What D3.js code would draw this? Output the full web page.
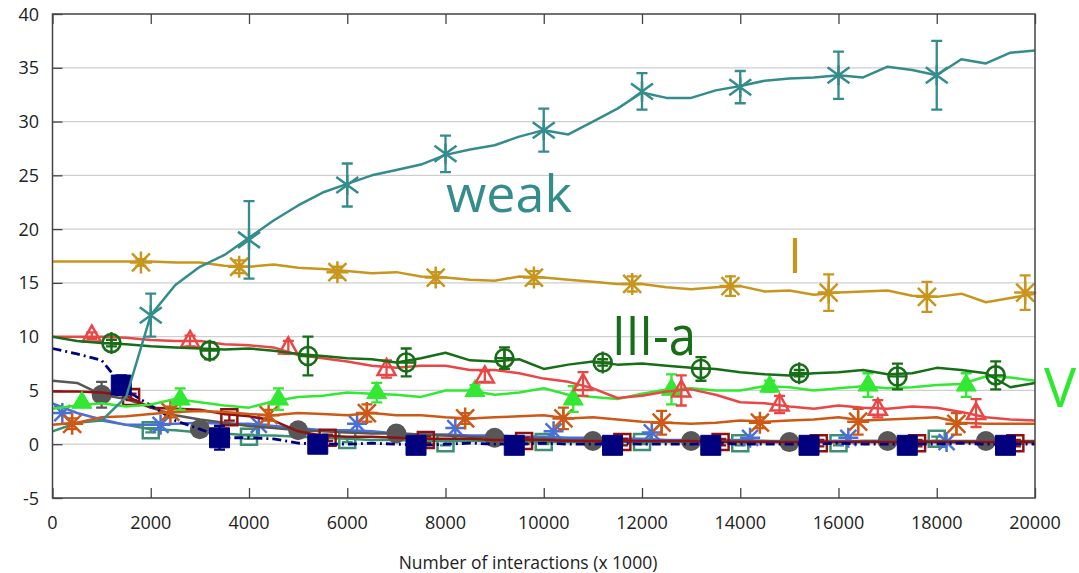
<!DOCTYPE html>
<html><head><meta charset="utf-8">
<script src="https://cdn.jsdelivr.net/npm/d3@7"></script>
<style>body{margin:0;background:#fff}svg{display:block}text{font-family:"Open Sans",sans-serif}</style>
</head><body><svg id="c" width="1079" height="573"></svg>
<script>
// ---------- data ----------
const xTicks=[0,2000,4000,6000,8000,10000,12000,14000,16000,18000,20000];
const yTicks=[-5,0,5,10,15,20,25,30,35,40];
const xTitle="Number of interactions (x 1000)";
const X=[0,500,1000,1500,2000,2500,3000,3500,4000,4500,5000,5500,6000,6500,7000,7500,8000,8500,9000,9500,10000,10500,11000,11500,12000,12500,13000,13500,14000,14500,15000,15500,16000,16500,17000,17500,18000,18500,19000,19500,20000];

const weakY=[null,null,2.2,4.4,12,14.8,16.5,17.6,19.2,20.8,22.2,23.4,24.2,25,25.5,26,26.9,27.4,27.8,28.6,29.2,28.8,30,31.2,32.7,32.2,32.2,32.9,33.3,33.8,34,34.1,34.3,34.1,35.1,34.8,34.3,35.8,35.4,36.4,36.6];
const weakMX=[2000,4000,6000,8000,10000,12000,14000,16000,18000];
const weakMY=[12,19,24.1,27,29.2,32.8,33.2,34.3,34.3];
const weakErr=[2,3.6,2,1.7,2,1.7,1.5,2.2,3.2];

const iY=[17,17,17,17,17,16.9,16.9,16.6,16.5,16.7,16.4,16.3,16.1,15.9,16,15.6,15.5,15.3,15.2,15.6,15.5,15.3,15.1,14.9,14.9,14.6,14.4,14.6,14.7,14.2,14.3,13.9,14.1,14.2,14.3,13.8,13.7,14.0,13.2,13.6,14.0];
const iMX=[1800,3800,5800,7800,9800,11800,13800,15800,17800,19800];
const iMY=[16.9,16.5,16,15.5,15.5,14.9,14.7,14.1,13.7,14.1];
const iErr=[0.3,0.6,0.5,0.5,0.6,0.7,0.9,1.7,1.4,1.6];

const iiiaY=[10,9.6,9.4,9.3,9.1,9.0,8.9,8.8,8.9,8.7,8.4,8.2,8.0,7.9,7.6,8.0,8.5,7.8,7.7,7.9,7.0,7.4,7.7,7.4,7.5,7.3,7.1,7.0,6.7,6.5,6.4,6.6,6.7,6.9,6.5,6.6,7.1,6.9,6.6,5.3,5.7];
const iiiaMX=[1200,3200,5200,7200,9200,11200,13200,15200,17200,19200];
const iiiaMY=[9.4,8.7,8.2,7.6,8.0,7.6,7.0,6.6,6.3,6.4];
const iiiaErr=[0.3,0.8,1.8,1.3,1.0,0.3,1.1,0.3,1.2,1.3];

const redY=[10,10,10,9.9,9.7,9.6,9.6,9.3,9.2,9.0,8.3,8.0,7.7,7.3,7.1,7.3,7.3,6.9,6.9,6.6,6.1,5.8,5.2,4.3,4.5,4.9,5.1,4.6,3.9,3.8,3.5,3.3,3.6,3.4,3.3,3.5,3.4,3.0,2.5,2.3,2.2];
const redMX=[800,2800,4800,6800,8800,10800,12800,14800,16800,18800];
const redMY=[10.1,9.6,9.0,7.0,6.3,5.6,5.0,3.7,3.3,2.9];
const redErr=[0.3,0.5,0.6,0.8,0.5,1.1,1.4,0.8,0.8,1.3];

const vY=[3.3,3.6,3.8,3.5,3.7,4.2,3.9,3.6,3.4,4.0,4.4,4.5,4.8,4.7,4.6,4.4,5.0,5.0,4.6,4.8,5.2,4.6,4.4,4.2,4.7,5.1,5.2,5.0,5.0,5.4,5.3,5.0,5.2,5.4,5.2,5.3,5.5,5.6,6.3,6.2,5.9];
const vMX=[600,2600,4600,6600,8600,10600,12600,14600,16600,18600];
const vMY=[3.9,4.2,4.2,4.8,5.0,4.2,5.1,5.4,5.5,5.5];
const vErr=[0,1.0,1.0,0.9,0.5,1.2,1.4,0.5,1.1,1.1];

const orangeY=[1.8,2.0,2.5,2.6,2.8,3.0,3.1,3.0,2.8,2.7,2.9,2.8,2.7,2.9,2.7,2.7,2.5,2.4,2.5,2.6,2.7,2.4,2.5,2.3,2.1,2.0,1.9,2.0,2.2,2.1,2.2,2.3,2.5,2.2,2.3,2.4,2.5,2.0,1.9,1.9,1.9];
const orangeMX=[400,2400,4400,6400,8400,10400,12400,14400,16400,18400];
const orangeMY=[1.9,3.0,2.7,2.9,2.4,2.4,2.0,2.0,2.1,1.9];
const orangeErr=[0.5,0.5,0.5,0.8,0.5,1.0,1.1,0.5,1.2,1.0];

const darkRedY=[4.9,4.9,4.8,4.5,3.4,3.3,3.2,2.8,2.6,2.2,1.2,0.8,0.7,0.7,0.6,0.5,0.5,0.5,0.4,0.4,0.4,0.3,0.3,0.3,0.3,0.3,0.3,0.2,0.2,0.2,0.2,0.2,0.2,0.2,0.2,0.2,0.2,0.2,0.2,0.2,0.2];
const darkRedMX=[1600,3600,5600,7600,9600,11600,13600,15600,17600,19600];
const darkRedMY=[4.4,2.5,0.6,0.4,0.3,0.2,0.2,0.1,0.1,0.1];
const darkRedErr=[0.3,0.3,0.3,0.3,0.3,0.3,0.3,0.3,0.3,0.3];

const navyY=[8.9,8.4,7.8,5.0,3.6,2.2,1.4,0.6,0.6,0.5,0.1,0.0,0.0,0.1,0.0,-0.1,0.0,0.1,0.0,0.0,0.1,0.0,0.0,0.1,0.0,0.0,0.0,0.1,0.0,0.0,0.0,0.0,0.1,0.0,0.0,0.0,0.0,0.1,0.0,0.0,0.0];
const navyMX=[1400,3400,5400,7400,9400,11400,13400,15400,17400,19400];
const navyMY=[5.5,0.6,0,-0.1,-0.1,-0.1,-0.1,-0.1,-0.1,-0.1];
const navyErr=[0.9,1.1,0.2,0.2,0.2,0.2,0.2,0.2,0.2,0.2];

const grayY=[5.9,5.7,4.6,4.2,3.4,2.7,2.3,2.0,1.7,1.5,1.3,1.2,1.1,1.0,1.0,0.9,0.8,0.7,0.6,0.5,0.5,0.4,0.4,0.4,0.3,0.3,0.3,0.3,0.3,0.3,0.2,0.2,0.2,0.3,0.3,0.3,0.3,0.3,0.3,0.3,0.3];
const grayMX=[1000,3000,5000,7000,9000,11000,13000,15000,17000,19000];
const grayMY=[4.6,1.4,1.3,1.0,0.6,0.3,0.3,0.2,0.3,0.3];
const grayErr=[1.2,0.3,0.3,0.3,0.3,0.3,0.3,0.3,0.3,0.3];

const blueY=[3.8,2.9,2.3,1.8,1.8,1.9,2.0,1.9,1.9,1.7,1.5,1.3,1.3,1.2,1.0,0.9,0.9,0.8,0.8,0.7,0.7,0.6,0.6,0.5,0.5,0.4,0.4,0.4,0.4,0.3,0.3,0.3,0.3,0.3,0.3,0.2,0.2,0.2,0.2,0.2,0.2];
const blueMX=[200,2200,4200,6200,8200,10200,12200,14200,16200,18200];
const blueMY=[2.9,1.8,1.8,1.9,1.5,1.2,1.1,0.6,0.6,0.2];
const blueErr=[0,0,0,0,0,0,0,0,0,0];

const seaY=[1.2,2.0,2.2,1.8,1.4,1.3,1.1,1.0,0.8,0.8,0.7,0.6,0.5,0.4,0.4,0.3,0.3,0.3,0.3,0.2,0.2,0.2,0.2,0.2,0.2,0.2,0.2,0.2,0.2,0.2,0.2,0.2,0.2,0.2,0.2,0.2,0.2,0.2,0.2,0.2,0.2];
const seaMX=[2000,4000,6000,8000,10000,12000,14000,16000,18000];
const seaMY=[1.3,0.7,0.4,0.1,0.2,0.2,0.1,0.1,0.5];
const seaErr=[0.2,0.2,0.2,0.2,0.2,0.2,0.2,0.2,0.2];

// ---------- chart ----------
const svg=d3.select("#c");
const L=52.5,R=1035,T=14,B=498;
const x=d3.scaleLinear().domain([0,20000]).range([L,R]);
const y=d3.scaleLinear().domain([-5,40]).range([B,T]);

svg.append("g").selectAll("line").data(yTicks.filter(v=>v>-5&&v<40)).join("line")
  .attr("x1",L).attr("x2",R).attr("y1",d=>y(d)).attr("y2",d=>y(d))
  .attr("stroke","#cfcfcf").attr("stroke-width",1.2);

const axB=svg.append("g").attr("transform",`translate(0,${B})`).call(d3.axisTop(x).tickValues(xTicks).tickSize(10).tickFormat(""));
const axT=svg.append("g").attr("transform",`translate(0,${T})`).call(d3.axisBottom(x).tickValues(xTicks).tickSize(10).tickFormat(""));
const axL=svg.append("g").attr("transform",`translate(${L},0)`).call(d3.axisRight(y).tickValues(yTicks).tickSize(10).tickFormat(""));
[axB,axT,axL].forEach(a=>{a.select(".domain").remove();a.selectAll("line").attr("stroke","#444").attr("stroke-width",1.3);});

svg.append("g").selectAll("text").data(xTicks).join("text")
  .attr("x",d=>x(d)).attr("y",529).attr("text-anchor","middle")
  .attr("font-size",18).attr("fill","#222").text(d=>d);
svg.append("g").selectAll("text").data(yTicks).join("text")
  .attr("x",39).attr("y",d=>y(d)+6.5).attr("text-anchor","end")
  .attr("font-size",18).attr("fill","#222").text(d=>d);
svg.append("text").attr("x",528).attr("y",569).attr("text-anchor","middle")
  .attr("font-size",17.5).attr("fill","#222").text(xTitle);

const shapes={
  xstar:"M-11,-8L11,8M-11,8L11,-8M0,-10V10",
  star8:"M-9,-9L9,9M-9,9L9,-9M0,-11V11M-11,0H11",
  star8s:"M-8,-8L8,8M-8,8L8,-8M0,-10V10M-10,0H10",
  cross:"M-9,0H9M0,-11V11",
  tri:"M0,-10L9,6L-9,6Z",
  triF:"M0,-11L10,6L-10,6Z",
  sq:"M-8,-8H8V8H-8Z",
  sqF:"M-10,-10H10V10H-10Z"
};

const series=[
  {v:seaY,mx:seaMX,my:seaMY,e:seaErr,c:"#3a9070",shape:"sq",fill:"none",w:2.5},
  {v:blueY,mx:blueMX,my:blueMY,e:blueErr,c:"#4a6fd8",shape:"star8s",fill:"none",w:2.5},
  {v:grayY,mx:grayMX,my:grayMY,e:grayErr,c:"#575757",shape:"dot",fill:"#575757",w:2.5},
  {v:darkRedY,mx:darkRedMX,my:darkRedMY,e:darkRedErr,c:"#8e1212",shape:"sq",fill:"none",w:2.5},
  {v:navyY,mx:navyMX,my:navyMY,e:navyErr,c:"#00007e",shape:"sqF",fill:"#00007e",w:2.8,dash:"9,4,2,4"},
  {v:orangeY,mx:orangeMX,my:orangeMY,e:orangeErr,c:"#cc5a16",shape:"star8",fill:"none",w:2.5},
  {v:vY,mx:vMX,my:vMY,e:vErr,c:"#33e833",shape:"triF",fill:"#33e833",w:2.5},
  {v:redY,mx:redMX,my:redMY,e:redErr,c:"#ea4646",shape:"tri",fill:"none",w:2.5},
  {v:iiiaY,mx:iiiaMX,my:iiiaMY,e:iiiaErr,c:"#176e17",shape:"ccross",fill:"none",w:2.5},
  {v:iY,mx:iMX,my:iMY,e:iErr,c:"#c8961e",shape:"star8",fill:"none",w:2.5},
  {v:weakY,mx:weakMX,my:weakMY,e:weakErr,c:"#358c8c",shape:"xstar",fill:"none",w:2.5}
];

const line=d3.line().defined(d=>d[1]!=null).x(d=>x(d[0])).y(d=>y(d[1]));
series.forEach(s=>{
  const g=svg.append("g");
  g.append("path").datum(X.map((xv,i)=>[xv,s.v[i]])).attr("d",line)
    .attr("fill","none").attr("stroke",s.c).attr("stroke-width",s.w)
    .attr("stroke-linejoin","round").attr("stroke-dasharray",s.dash||null);
  const pts=s.mx.map((xv,i)=>({x:xv,y:s.my[i],e:s.e[i]}));
  g.selectAll(".eb").data(pts.filter(p=>p.e>0)).join("path")
    .attr("d",p=>{const cx=x(p.x),y1=y(p.y+p.e),y2=y(p.y-p.e);
      return `M${cx},${y1}V${y2}M${cx-5.5},${y1}H${cx+5.5}M${cx-5.5},${y2}H${cx+5.5}`;})
    .attr("stroke",s.c).attr("stroke-width",2.3).attr("fill","none");
  const m=g.selectAll(".mk").data(pts).join("g").attr("transform",p=>`translate(${x(p.x)},${y(p.y)})`);
  if(s.shape==="dot"){
    m.append("circle").attr("r",10).attr("fill",s.fill);
  } else if(s.shape==="ccross"){
    m.append("circle").attr("r",9).attr("fill","none").attr("stroke",s.c).attr("stroke-width",2.6);
    m.append("path").attr("d",shapes.cross).attr("stroke",s.c).attr("stroke-width",2.3);
  } else {
    m.append("path").attr("d",shapes[s.shape]).attr("fill",s.fill)
      .attr("stroke",s.c).attr("stroke-width",s.shape==="sqF"||s.shape==="triF"?1:2.5)
      .attr("stroke-linejoin","miter");
  }
});

svg.append("rect").attr("x",L).attr("y",T).attr("width",R-L).attr("height",B-T)
  .attr("fill","none").attr("stroke","#444").attr("stroke-width",1.5);

svg.append("text").attr("x",446).attr("y",212).attr("font-size",52).attr("fill","#358c8c").text("weak");
svg.append("text").attr("x",788).attr("y",273).attr("font-size",50).attr("fill","#c8961e").text("I");
svg.append("text").attr("x",612).attr("y",355).attr("font-size",54).attr("fill","#176e17")
  .attr("textLength",84).attr("lengthAdjust","spacingAndGlyphs").text("III-a");
svg.append("text").attr("x",1044).attr("y",407).attr("font-size",54).attr("fill","#2ee82e").text("V");
</script></body></html>
